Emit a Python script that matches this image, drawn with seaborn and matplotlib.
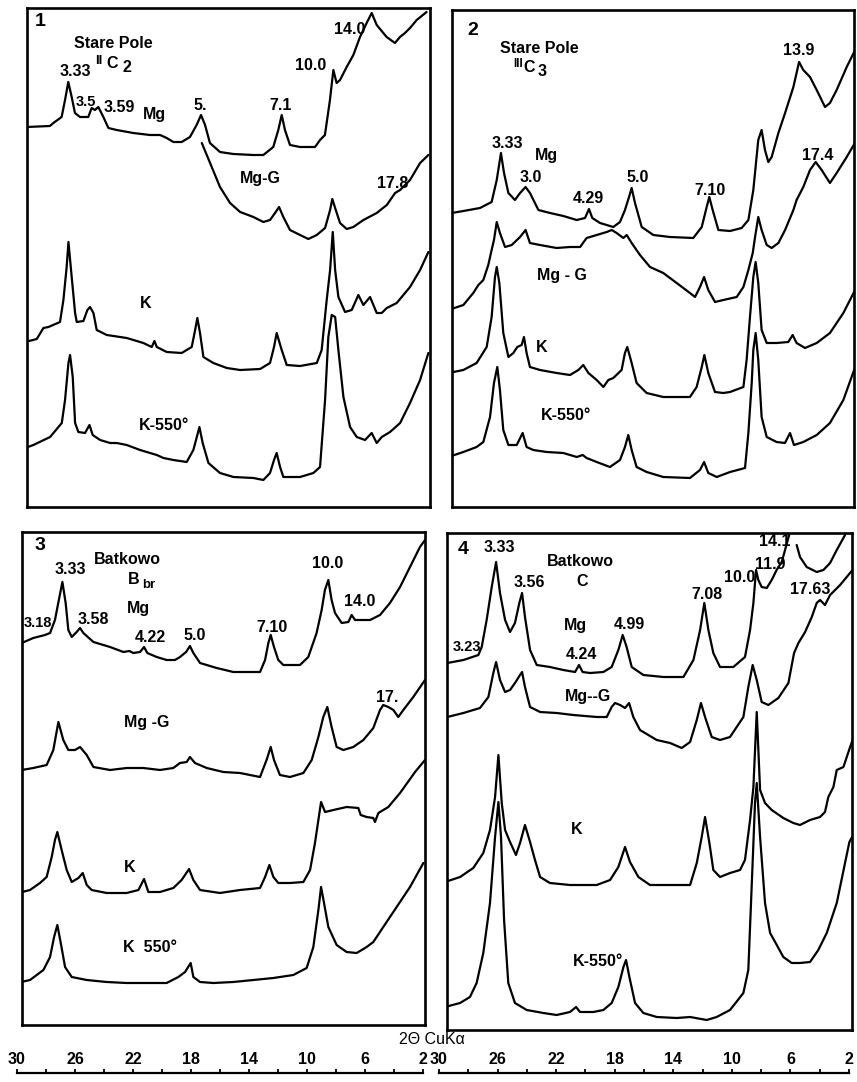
import numpy as np
import pandas as pd
import matplotlib
matplotlib.use("Agg")
import matplotlib.pyplot as plt
import seaborn as sns

nan = np.nan

# ---------------- data: 2-theta (deg, CuKa) and relative intensity ----------------
# Panel 1 - Stare Pole IIC2
p1_mg_tt = [29.54, 27.97, 27.74, 27.18, 26.95, 26.73, 26.50, 26.28, 25.94, 25.38, 25.15, 24.93, 24.70, 24.36, 24.02, 23.46, 22.34, 21.21, 20.53, 20.08, 19.63, 19.07, 18.51, 18.06, 17.76, 17.49, 17.16, 16.48, 15.58, 14.23, 13.55, 12.88, 12.54, 12.31, 12.09, 11.75, 11.07, 10.06, 9.72, 9.39, 9.05, 8.82, 8.60, 8.37, 7.92, 7.47, 7.02, 6.57, 6.23, 5.89, 5.22, 4.66, 4.32, 3.98, 3.64, 3.19, 2.52]
p1_mg_i = [380, 381, 384, 390, 407, 425, 410, 394, 390, 390, 399, 397, 400, 390, 379, 377, 374, 372, 372, 369, 365, 365, 370, 382, 392, 382, 364, 355, 353, 352, 352, 360, 377, 392, 377, 362, 360, 360, 367, 372, 407, 437, 424, 427, 440, 452, 470, 484, 494, 482, 470, 464, 470, 474, 479, 487, 495]
p1_mgg_tt = [17.71, 17.15, 16.48, 15.80, 15.12, 14.22, 13.55, 13.10, 12.76, 12.49, 12.20, 11.75, 11.07, 10.51, 9.94, 9.38, 9.04, 8.89, 8.70, 8.37, 7.92, 7.47, 6.79, 5.89, 5.21, 4.65, 4.31, 3.64, 2.96, 2.40]
p1_mgg_i = [364, 344, 320, 304, 295, 290, 285, 287, 294, 300, 290, 277, 272, 268, 272, 279, 297, 308, 299, 284, 278, 280, 287, 294, 302, 314, 317, 327, 344, 352]
p1_k_tt = [29.65, 28.86, 28.41, 28.07, 27.29, 27.06, 26.84, 26.72, 26.50, 26.27, 26.16, 25.71, 25.44, 25.26, 25.03, 24.81, 24.13, 22.78, 21.66, 21.09, 20.91, 20.75, 20.08, 19.07, 18.39, 18.16, 18.01, 17.83, 17.60, 16.93, 16.02, 15.12, 13.77, 13.10, 12.83, 12.65, 12.31, 11.97, 11.07, 9.94, 9.61, 9.27, 9.04, 8.86, 8.70, 8.48, 8.03, 7.58, 7.13, 6.79, 6.34, 5.89, 5.55, 5.21, 4.54, 3.64, 2.96, 2.40]
p1_k_i = [165, 168, 179, 180, 185, 207, 240, 265, 230, 194, 185, 186, 197, 200, 194, 177, 172, 169, 164, 160, 166, 160, 155, 154, 160, 177, 189, 174, 150, 144, 139, 137, 138, 144, 160, 174, 157, 142, 141, 144, 157, 207, 237, 275, 237, 210, 195, 197, 212, 202, 210, 194, 194, 199, 204, 220, 237, 255]
p1_k550_tt = [29.65, 29.09, 27.96, 27.17, 26.95, 26.72, 26.61, 26.43, 26.27, 26.05, 25.60, 25.30, 25.08, 24.58, 23.91, 23.46, 22.78, 21.88, 20.75, 20.30, 19.63, 18.73, 18.28, 18.01, 17.87, 17.65, 17.26, 16.48, 15.57, 14.22, 13.55, 13.10, 12.83, 12.65, 12.42, 12.20, 11.07, 10.17, 9.72, 9.38, 9.16, 8.93, 8.70, 8.48, 8.14, 7.69, 7.24, 6.68, 6.23, 5.89, 5.55, 4.99, 4.31, 3.64, 2.96, 2.40]
p1_k550_i = [59, 62, 70, 84, 107, 144, 152, 130, 84, 75, 74, 82, 72, 67, 64, 64, 62, 57, 52, 49, 47, 45, 57, 72, 80, 64, 44, 34, 30, 29, 27, 34, 47, 54, 40, 30, 30, 34, 40, 107, 170, 192, 190, 157, 110, 80, 70, 67, 74, 64, 70, 75, 84, 104, 127, 154]

# Panel 2 - Stare Pole IIIC3
p2_mg_tt = [30.13, 29.33, 28.19, 27.39, 27.04, 26.75, 26.54, 26.24, 25.79, 25.44, 25.06, 24.76, 24.18, 23.38, 22.47, 21.55, 20.98, 20.71, 20.48, 19.95, 19.04, 18.58, 18.24, 17.96, 17.78, 17.55, 17.09, 16.29, 15.15, 13.55, 12.97, 12.63, 12.45, 12.22, 11.83, 11.03, 10.23, 9.77, 9.43, 9.09, 8.86, 8.63, 8.40, 8.17, 7.71, 7.25, 6.68, 6.29, 6.00, 5.54, 5.08, 4.51, 4.17, 3.71, 3.02, 2.34]
p2_mg_i = [294, 296, 299, 305, 327, 354, 334, 314, 307, 314, 320, 314, 297, 294, 291, 287, 289, 298, 289, 284, 280, 285, 297, 310, 319, 304, 280, 272, 270, 269, 280, 300, 310, 297, 277, 276, 279, 287, 317, 367, 377, 357, 345, 350, 374, 394, 420, 445, 437, 430, 417, 400, 404, 417, 440, 460]
p2_mgg_tt = [30.36, 29.33, 28.65, 28.30, 27.96, 27.62, 27.39, 27.23, 27.04, 26.82, 26.47, 26.01, 25.44, 25.06, 24.76, 24.07, 22.93, 22.01, 21.32, 20.87, 20.18, 19.49, 19.15, 18.81, 18.35, 18.12, 17.78, 17.21, 16.52, 15.61, 14.69, 13.78, 13.43, 13.09, 12.81, 12.52, 12.06, 11.49, 10.57, 10.11, 9.77, 9.47, 9.31, 9.09, 8.86, 8.51, 8.17, 7.71, 7.25, 6.68, 6.46, 6.00, 5.54, 5.15, 4.74, 4.17, 3.71, 3.02, 2.34]
p2_mgg_i = [197, 202, 214, 222, 227, 242, 257, 267, 285, 274, 260, 262, 270, 277, 264, 262, 259, 260, 260, 269, 272, 275, 277, 274, 269, 272, 264, 252, 240, 234, 224, 214, 210, 220, 230, 217, 205, 207, 210, 220, 237, 254, 270, 290, 277, 262, 259, 264, 277, 297, 307, 320, 337, 345, 337, 324, 334, 350, 367]
p2_k_tt = [30.36, 29.33, 28.42, 27.73, 27.39, 27.16, 27.04, 26.86, 26.59, 26.24, 25.90, 25.63, 25.33, 25.17, 24.99, 24.76, 24.07, 22.93, 22.01, 21.44, 21.10, 20.75, 20.18, 19.72, 19.38, 19.04, 18.47, 18.24, 18.08, 17.78, 17.44, 16.75, 15.61, 13.78, 13.32, 12.97, 12.79, 12.52, 12.06, 11.49, 11.03, 10.11, 9.89, 9.66, 9.43, 9.27, 9.09, 8.86, 8.51, 7.83, 7.03, 6.73, 6.46, 5.88, 5.08, 4.17, 3.25, 2.34]
p2_k_i = [134, 137, 144, 160, 190, 230, 240, 224, 174, 150, 154, 160, 162, 170, 154, 140, 137, 134, 132, 137, 142, 134, 127, 120, 127, 129, 137, 154, 160, 144, 124, 114, 110, 110, 120, 140, 152, 134, 115, 114, 115, 120, 147, 190, 230, 245, 224, 177, 164, 164, 165, 172, 164, 159, 164, 174, 194, 220]
p2_k550_tt = [30.36, 29.33, 28.42, 27.96, 27.50, 27.23, 27.00, 26.82, 26.59, 26.24, 25.67, 25.26, 24.99, 24.53, 23.61, 22.47, 21.55, 21.14, 20.87, 20.18, 19.27, 18.58, 18.24, 18.01, 17.78, 17.44, 16.75, 15.61, 13.78, 13.09, 12.81, 12.52, 11.94, 11.03, 10.00, 9.77, 9.54, 9.43, 9.27, 9.09, 8.86, 8.51, 7.83, 7.26, 6.91, 6.64, 6.00, 5.08, 4.17, 3.25, 2.34]
p2_k550_i = [50, 55, 60, 65, 90, 124, 140, 117, 77, 62, 62, 74, 60, 57, 55, 54, 50, 52, 49, 45, 40, 47, 60, 72, 57, 40, 35, 30, 29, 37, 45, 34, 30, 35, 39, 74, 124, 157, 174, 147, 90, 70, 65, 64, 74, 62, 65, 72, 84, 107, 144]

# Panel 3 - Batkowo Bbr
p3_mg_tt = [29.49, 28.71, 27.92, 27.58, 27.25, 26.95, 26.75, 26.53, 26.35, 26.12, 25.79, 25.56, 25.34, 24.66, 23.54, 22.64, 22.24, 21.97, 21.52, 21.25, 21.03, 20.40, 19.73, 19.17, 18.83, 18.42, 18.16, 17.93, 17.48, 16.36, 15.24, 13.44, 13.10, 12.88, 12.72, 12.50, 12.21, 11.87, 10.75, 10.19, 9.63, 9.29, 9.07, 8.84, 8.62, 8.39, 7.94, 7.49, 7.27, 7.04, 6.71, 6.03, 5.36, 4.69, 4.01, 3.34, 2.67, 2.33]
p3_mg_i = [382, 387, 390, 392, 405, 428, 443, 422, 395, 388, 393, 397, 392, 383, 378, 373, 374, 372, 373, 378, 372, 368, 365, 365, 368, 373, 379, 372, 362, 357, 353, 353, 365, 382, 390, 378, 365, 360, 360, 368, 392, 415, 435, 445, 425, 412, 402, 403, 410, 405, 405, 405, 410, 422, 438, 458, 478, 485]
p3_mgg_tt = [29.49, 28.71, 27.81, 27.36, 27.02, 26.69, 26.35, 25.90, 25.56, 25.11, 24.66, 23.54, 22.42, 21.30, 20.18, 19.28, 18.83, 18.38, 18.16, 17.82, 17.03, 15.91, 14.79, 13.44, 13.00, 12.72, 12.50, 12.10, 11.42, 10.52, 9.96, 9.51, 9.18, 8.91, 8.62, 8.28, 7.83, 7.16, 6.48, 5.81, 5.36, 5.14, 4.80, 4.46, 4.13, 3.79, 3.12, 2.33]
p3_mgg_i = [255, 257, 260, 275, 303, 285, 275, 275, 278, 270, 258, 255, 257, 257, 255, 257, 262, 263, 268, 262, 257, 253, 252, 248, 265, 278, 265, 250, 248, 252, 265, 288, 308, 318, 298, 278, 275, 278, 285, 297, 315, 320, 318, 315, 308, 315, 328, 345]
p3_k_tt = [29.72, 28.93, 28.26, 27.81, 27.47, 27.25, 27.09, 26.80, 26.46, 26.12, 25.67, 25.38, 25.11, 24.78, 23.77, 22.42, 21.63, 21.25, 20.96, 20.18, 19.28, 18.72, 18.22, 17.93, 17.48, 16.14, 14.79, 13.44, 13.10, 12.81, 12.54, 12.21, 11.42, 10.52, 10.07, 9.74, 9.51, 9.33, 9.06, 8.50, 7.61, 6.82, 6.66, 6.26, 5.81, 5.70, 5.47, 4.80, 4.01, 3.00, 2.33]
p3_k_i = [132, 135, 142, 148, 168, 185, 193, 175, 155, 143, 147, 152, 140, 135, 132, 132, 135, 146, 133, 133, 137, 145, 156, 145, 135, 132, 135, 137, 148, 160, 148, 142, 142, 143, 155, 182, 205, 223, 213, 215, 218, 217, 210, 208, 207, 203, 212, 218, 232, 253, 265]
p3_k550_tt = [29.83, 28.93, 28.03, 27.58, 27.31, 27.09, 26.86, 26.57, 26.12, 25.11, 23.77, 22.42, 21.07, 19.73, 18.94, 18.49, 18.11, 17.93, 17.48, 16.58, 15.24, 13.89, 12.54, 11.20, 10.30, 9.85, 9.51, 9.33, 9.13, 8.84, 8.28, 7.61, 6.93, 6.26, 5.81, 5.14, 4.24, 3.34, 2.44]
p3_k550_i = [42, 45, 55, 68, 88, 100, 82, 58, 48, 45, 43, 42, 42, 42, 48, 53, 62, 48, 43, 42, 43, 45, 47, 50, 57, 78, 115, 138, 122, 98, 80, 73, 72, 78, 83, 98, 118, 138, 162]

# Panel 4 - Batkowo C  (Mg trace leaves the chart near 14 A: gap = nan)
p4_mg_tt = [30.11, 29.00, 27.97, 27.74, 27.40, 27.05, 26.75, 26.48, 26.13, 25.79, 25.45, 25.15, 24.96, 24.76, 24.41, 23.95, 23.04, 22.12, 21.31, 21.04, 20.79, 20.28, 19.36, 18.79, 18.33, 18.03, 17.76, 17.41, 16.61, 15.23, 13.85, 13.16, 12.70, 12.41, 12.13, 11.79, 11.33, 10.41, 9.61, 9.26, 9.03, 8.85, 8.69, 8.46, 8.11, 7.77, 7.43, 7.08, 6.85, 6.55, nan, 6.05, 5.82, 5.36, 4.67, 4.21, 3.75, 3.29, 2.72]
p4_mg_i = [365, 368, 373, 381, 408, 441, 466, 435, 408, 396, 405, 425, 435, 411, 378, 363, 361, 358, 356, 363, 356, 355, 356, 361, 378, 393, 381, 361, 353, 351, 351, 368, 398, 425, 398, 375, 361, 361, 371, 398, 425, 458, 448, 441, 440, 448, 458, 466, 478, 494, nan, 483, 471, 461, 456, 458, 465, 478, 493]
p4_mgg_tt = [30.11, 29.00, 27.86, 27.28, 26.94, 26.75, 26.48, 26.13, 25.79, 25.45, 25.10, 24.96, 24.76, 24.41, 23.72, 22.58, 21.43, 19.82, 19.13, 18.79, 18.56, 18.21, 17.87, 17.59, 17.30, 16.84, 15.69, 14.77, 13.97, 13.39, 12.93, 12.64, 12.36, 11.90, 11.33, 10.64, 9.72, 9.38, 9.08, 8.80, 8.46, 8.00, 7.31, 6.62, 6.23, 5.93, 5.47, 5.01, 4.67, 4.44, 4.10, 3.75, 3.06, 2.49, 2.03]
p4_mgg_i = [311, 315, 320, 331, 355, 366, 348, 336, 338, 345, 353, 356, 341, 321, 316, 315, 313, 311, 311, 321, 325, 323, 320, 325, 311, 298, 288, 285, 280, 286, 308, 325, 311, 291, 288, 291, 311, 341, 363, 348, 326, 323, 330, 345, 375, 385, 396, 411, 425, 428, 423, 433, 443, 453, 461]
p4_k_tt = [30.27, 29.23, 28.32, 27.63, 27.17, 26.82, 26.59, 26.36, 26.13, 25.79, 25.38, 25.10, 24.76, 24.41, 24.07, 23.72, 23.04, 21.66, 19.82, 18.90, 18.33, 17.87, 17.53, 16.95, 16.15, 14.77, 13.39, 12.93, 12.59, 12.36, 12.06, 11.79, 11.33, 10.64, 9.95, 9.61, 9.26, 9.03, 8.80, 8.57, 8.23, 7.77, 6.97, 6.28, 5.82, 5.13, 4.44, 4.10, 3.87, 3.52, 3.29, 2.83, 2.37, 2.03]
p4_k_i = [146, 151, 160, 175, 198, 231, 273, 225, 198, 186, 173, 185, 203, 186, 168, 151, 145, 143, 143, 148, 161, 181, 166, 151, 143, 143, 143, 165, 191, 211, 185, 158, 151, 155, 158, 168, 208, 241, 316, 238, 225, 218, 210, 205, 203, 208, 211, 216, 231, 241, 258, 261, 281, 295]
p4_k550_tt = [30.27, 29.23, 28.55, 28.09, 27.63, 27.17, 26.82, 26.59, 26.41, 26.20, 25.91, 25.45, 24.64, 23.49, 22.58, 21.66, 21.24, 20.97, 20.05, 19.36, 18.79, 18.33, 17.98, 17.80, 17.57, 17.18, 16.61, 15.69, 14.31, 13.39, 12.25, 11.56, 10.64, 9.72, 9.38, 9.15, 8.92, 8.80, 8.57, 8.23, 7.88, 7.42, 6.97, 6.39, 5.82, 5.13, 4.56, 3.98, 3.29, 2.72, 2.42, 2.15]
p4_k550_i = [21, 25, 31, 45, 75, 125, 191, 226, 191, 108, 45, 25, 18, 15, 13, 16, 21, 16, 16, 18, 25, 41, 61, 68, 51, 25, 15, 11, 10, 11, 8, 11, 18, 35, 58, 141, 225, 245, 191, 125, 95, 83, 71, 65, 65, 66, 78, 95, 125, 165, 186, 193]

# scale of the bottom rulers
scale_ticks = list(range(30, 1, -2))
scale_labels = [str(v) if (30 - v) % 4 == 0 else "" for v in scale_ticks]

# ---------------- labels (2-theta, intensity, text, size) ----------------
FS = 11.5
p1_labels = [(28.64, 485, "1", 14), (23.71, 464, "Stare Pole", FS), (24.70, 446, "II", 9.5),
             (23.78, 443, "C", FS), (22.80, 439, "2", FS), (26.28, 435, "3.33", FS),
             (25.53, 405, "3.5", 10.5), (23.30, 400, "3.59", FS), (20.94, 392, "Mg", FS),
             (17.83, 402, "5.", FS), (12.36, 402, "7.1", FS), (10.33, 442, "10.0", FS),
             (7.70, 477, "14.0", FS), (13.78, 329, "Mg-G", FS), (4.79, 324, "17.8", FS),
             (21.48, 204, "K", FS), (20.26, 82, "K-550°", FS)]
p2_labels = [(28.67, 477, "2", 14), (24.14, 459, "Stare Pole", FS), (25.55, 443, "III", 8.5),
             (24.80, 440, "C", FS), (23.94, 436, "3", FS), (26.34, 364, "3.33", FS),
             (23.66, 352, "Mg", FS), (24.69, 330, "3.0", FS), (20.78, 309, "4.29", FS),
             (17.35, 330, "5.0", FS), (12.41, 317, "7.10", FS), (6.30, 457, "13.9", FS),
             (4.99, 352, "17.4", FS), (22.56, 232, "Mg - G", FS), (23.94, 159, "K", FS),
             (22.29, 92, "K-550°", FS)]
p3_labels = [(28.25, 480, "3", 14), (22.39, 465, "Batkowo", FS), (21.92, 445, "B", FS),
             (20.95, 440, "br", 9.5), (26.23, 455, "3.33", FS), (21.65, 417, "Mg", FS),
             (28.39, 402, "3.18", 10.5), (24.68, 405, "3.58", FS), (20.85, 387, "4.22", FS),
             (17.82, 390, "5.0", FS), (12.64, 397, "7.10", FS), (8.86, 462, "10.0", FS),
             (6.70, 423, "14.0", FS), (4.89, 328, "17.", FS), (21.05, 302, "Mg -G", FS),
             (22.19, 157, "K", FS), (20.85, 78, "K  550°", FS)]
p4_labels = [(29.02, 478, "4", 14), (26.54, 480, "3.33", FS), (20.96, 466, "Batkowo", FS),
             (20.83, 446, "C", FS), (24.48, 445, "3.56", FS), (21.31, 402, "Mg", FS),
             (17.59, 403, "4.99", FS), (28.75, 381, "3.23", 10.5), (20.90, 373, "4.24", FS),
             (12.22, 433, "7.08", FS), (10.01, 450, "10.0", FS), (7.88, 463, "11.9", FS),
             (7.53, 486, "14.1", FS), (5.12, 438, "17.63", FS), (20.41, 331, "Mg--G", FS),
             (21.17, 198, "K", FS), (19.73, 66, "K-550°", FS)]

panels = [
    dict(box=(27, 8, 430, 507), xlim=(29.52, 2.29), ylim=(0, 499), labels=p1_labels,
         traces={"Mg": (p1_mg_tt, p1_mg_i), "Mg-G": (p1_mgg_tt, p1_mgg_i),
                 "K": (p1_k_tt, p1_k_i), "K-550": (p1_k550_tt, p1_k550_i)}),
    dict(box=(452, 10, 854, 507), xlim=(30.11, 2.52), ylim=(0, 497), labels=p2_labels,
         traces={"Mg": (p2_mg_tt, p2_mg_i), "Mg-G": (p2_mgg_tt, p2_mgg_i),
                 "K": (p2_k_tt, p2_k_i), "K-550": (p2_k550_tt, p2_k550_i)}),
    dict(box=(22, 532, 425, 1025), xlim=(29.47, 2.33), ylim=(0, 493), labels=p3_labels,
         traces={"Mg": (p3_mg_tt, p3_mg_i), "Mg-G": (p3_mgg_tt, p3_mgg_i),
                 "K": (p3_k_tt, p3_k_i), "K-550": (p3_k550_tt, p3_k550_i)}),
    dict(box=(447, 533, 852, 1030), xlim=(30.13, 2.24), ylim=(-2, 495), labels=p4_labels,
         traces={"Mg": (p4_mg_tt, p4_mg_i), "Mg-G": (p4_mgg_tt, p4_mgg_i),
                 "K": (p4_k_tt, p4_k_i), "K-550": (p4_k550_tt, p4_k550_i)}),
]

# ---------------- drawing ----------------
sns.set_theme(style="white")
plt.rcParams['font.family'] = ['Liberation Sans', 'DejaVu Sans']

W, H = 857, 1082
fig = plt.figure(figsize=(W / 100, H / 100), dpi=100)
fig.patch.set_facecolor("white")


def add_axes_px(l, t, r, b):
    return fig.add_axes([l / W, 1 - b / H, (r - l) / W, (b - t) / H])


for p in panels:
    ax = add_axes_px(*p["box"])
    frames = []
    for name, (tt, ii) in p["traces"].items():
        tt = np.asarray(tt, float)
        ii = np.asarray(ii, float)
        n = min(len(tt), len(ii))
        if len(tt) != len(ii):
            print("length mismatch", name, len(tt), len(ii))
        tt, ii = tt[:n], ii[:n]
        seg = np.cumsum(np.isnan(ii) | np.isnan(tt))
        ok = ~(np.isnan(ii) | np.isnan(tt))
        frames.append(pd.DataFrame({"two_theta": tt[ok], "intensity": ii[ok],
                                    "unit": [f"{name}_{s}" for s in seg[ok]]}))
    df = pd.concat(frames, ignore_index=True)
    sns.lineplot(data=df, x="two_theta", y="intensity", units="unit", estimator=None,
                 sort=False, color="black", linewidth=1.6, ax=ax, legend=False)
    ax.set_xlim(*p["xlim"])
    ax.set_ylim(*p["ylim"])
    ax.set_xticks([])
    ax.set_yticks([])
    ax.set_xlabel("")
    ax.set_ylabel("")
    ax.set_facecolor("white")
    for s in ax.spines.values():
        s.set_visible(True)
        s.set_color("black")
        s.set_linewidth(1.9)
    for (t, i, txt, sz) in p["labels"]:
        ax.text(t, i, txt, ha="center", va="center", fontsize=sz,
                fontweight="bold", color="black")

# bottom 2-theta rulers
for (l, r) in [(17, 423), (439, 849)]:
    sx = add_axes_px(l, 1073, r, 1074)
    sx.set_xlim(30, 2)
    sx.set_ylim(0, 1)
    sx.set_yticks([])
    sx.set_facecolor("none")
    for side in ("left", "right", "bottom"):
        sx.spines[side].set_visible(False)
    sx.spines["top"].set_visible(True)
    sx.spines["top"].set_color("black")
    sx.spines["top"].set_linewidth(1.6)
    sx.xaxis.tick_top()
    sx.set_xticks(scale_ticks)
    sx.set_xticklabels(scale_labels, fontweight="bold", fontsize=11.5)
    sx.tick_params(axis="x", which="both", direction="out", length=3, width=1.3,
                   pad=1.5, top=True, bottom=False, labeltop=True, labelbottom=False,
                   colors="black")

fig.text(432 / W, 1 - 1040 / H, "2Θ CuKα", ha="center", va="center",
         fontsize=11.5, color="black")

fig.savefig("out.png", dpi=100, facecolor="white")
